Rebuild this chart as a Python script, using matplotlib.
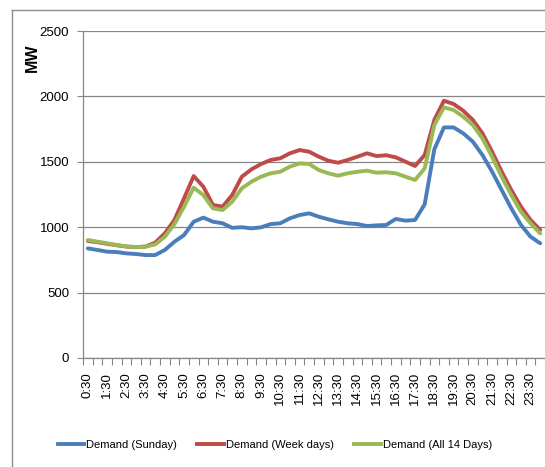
import matplotlib
matplotlib.use("Agg")
import matplotlib.pyplot as plt
import numpy as np
from matplotlib.lines import Line2D

# %% data (MW, half-hourly from 0:30 to 24:00)
times = ["%d:%s" % ((30 + 30 * k) // 60, "30" if k % 2 == 0 else "00") for k in range(48)]
sunday = [838, 826, 813, 810, 800, 795, 787, 787, 826, 889, 940, 1042,
          1073, 1042, 1030, 995, 1000, 991, 999, 1024, 1030, 1068, 1093, 1106,
          1080, 1060, 1042, 1030, 1024, 1009, 1014, 1017, 1063, 1050, 1055, 1175,
          1595, 1763, 1763, 1718, 1654, 1552, 1425, 1284, 1144, 1017, 927, 877]
week_days = [895, 885, 873, 862, 852, 848, 852, 882, 953, 1055, 1221, 1391,
             1310, 1170, 1157, 1246, 1386, 1442, 1483, 1514, 1527, 1565, 1590, 1577,
             1539, 1508, 1493, 1514, 1539, 1565, 1544, 1550, 1534, 1501, 1468, 1552,
             1820, 1967, 1942, 1891, 1820, 1718, 1577, 1425, 1284, 1157, 1055, 979]
all_14 = [902, 889, 877, 864, 853, 848, 851, 869, 927, 1024, 1157, 1302,
          1246, 1144, 1131, 1195, 1297, 1348, 1386, 1412, 1424, 1463, 1488, 1483,
          1437, 1412, 1394, 1412, 1424, 1432, 1417, 1420, 1412, 1386, 1361, 1450,
          1781, 1916, 1896, 1845, 1781, 1679, 1539, 1386, 1246, 1119, 1030, 953]
series_names = ["Demand (Sunday)", "Demand (Week days)", "Demand (All 14 Days)"]
colors = ["#4A7EBB", "#BE4B48", "#98B954"]

plt.rcParams['font.family'] = ['Liberation Sans', 'DejaVu Sans']
grid_c = "#868686"

fig = plt.figure(figsize=(5.45, 4.67), dpi=100)
ax = fig.add_axes([83 / 545, 109 / 467, 462 / 545, 327 / 467])

x = np.arange(len(times))
for vals, c in zip([sunday, week_days, all_14], colors):
    ax.plot(x, vals, color=c, lw=2.8, solid_joinstyle='round', solid_capstyle='round')

ax.set_xlim(-0.5, len(times) - 0.5)
ax.set_ylim(0, 2500)
ax.set_yticks(np.arange(0, 2501, 500))
ax.yaxis.grid(True, color=grid_c, lw=0.9)
ax.set_axisbelow(True)

# labels every hour, tick marks at category boundaries
ax.set_xticks(x[::2])
ax.set_xticklabels(times[::2], rotation=90, fontsize=9.5, va='top')
ax.set_xticks(np.arange(-0.5, len(times), 1.0), minor=True)
ax.tick_params(axis='x', which='major', length=0, pad=10)
ax.tick_params(axis='x', which='minor', length=5, color=grid_c, width=0.8)
ax.tick_params(axis='y', length=4, color=grid_c, width=0.8, pad=6, labelsize=9.5)

for s in ['top', 'right']:
    ax.spines[s].set_visible(False)
for s in ['left', 'bottom']:
    ax.spines[s].set_color(grid_c)
    ax.spines[s].set_linewidth(0.9)

fig.text(32 / 545, 1 - 58 / 467, "MW", rotation=90, fontsize=11.5, fontweight='bold',
         ha='center', va='center')

handles = [Line2D([], [], color=c, lw=2.8) for c in colors]
fig.legend(handles, series_names, loc='center', bbox_to_anchor=(275 / 545, 1 - 445 / 467),
           ncol=3, frameon=False, fontsize=8, handlelength=2.4, handletextpad=0.2,
           columnspacing=1.8)

# outer chart border
fig.add_artist(Line2D([12 / 545, 12 / 545], [0, 1 - 10 / 467], transform=fig.transFigure,
                      color="#8c8c8c", lw=1))
fig.add_artist(Line2D([12 / 545, 1], [1 - 10 / 467, 1 - 10 / 467], transform=fig.transFigure,
                      color="#8c8c8c", lw=1))

fig.savefig("out.png", dpi=100)
